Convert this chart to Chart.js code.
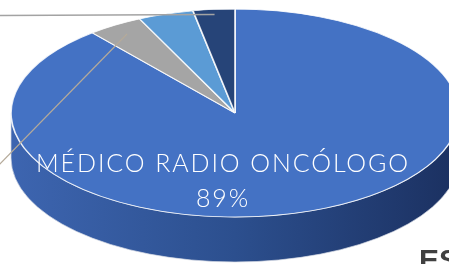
<!DOCTYPE html>
<html>
<head>
<meta charset="utf-8">
<script src="https://cdn.jsdelivr.net/npm/chart.js@4"></script>
<style>
  html, body { margin: 0; padding: 0; background: #fff; overflow: hidden; }
  canvas { display: block; }
</style>
</head>
<body>
<canvas id="canvas" width="449" height="264"></canvas>
<script>
// datos del gráfico (orden de Excel: empieza a las 12 y va en sentido horario)
var categorias = ['MÉDICO RADIO ONCÓLOGO', 'FÍSICO MÉDICO', 'TECNÓLOGO', 'ENFERMERÍA'];
var valores = [89, 4, 4, 3];
var colores = ['#4472C4', '#A5A5A5', '#5B9BD5', '#264478'];
// color del costado (efecto 3D): claro -> oscuro
var coloresLado = [
  ['#3d65b0', '#2c4f8e', '#1b3060'],
  ['#8c8c8c', '#777777', '#5c5c5c'],
  ['#4a86bd', '#3e72a3', '#2f5a82'],
  ['#1f3a66', '#1a3157', '#132544']
];

// geometría de la elipse (vista en perspectiva)
var CX = 235, CY = 113, RX = 224, RY = 104, PROF = 45;

function rangoVisible(a0, a1) {
  // parte del arco que cae en la mitad de abajo (0..PI) -> se ve el costado
  var res = [];
  for (var k = -1; k <= 1; k++) {
    var s = Math.max(a0, k * 2 * Math.PI), e = Math.min(a1, k * 2 * Math.PI + Math.PI);
    if (e > s) res.push([s, e]);
  }
  return res;
}

function puntoElipse(ang, frac) {
  return {
    x: CX + Math.cos(ang) * RX * frac,
    y: CY + Math.sin(ang) * RY * frac
  };
}

var pie3d = {
  id: 'pie3d',
  beforeDatasetsDraw: function(chart) {
    var ctx = chart.ctx;
    var arcs = chart.getDatasetMeta(0).data;
    // costado
    arcs.forEach(function(arc, i) {
      rangoVisible(arc.startAngle, arc.endAngle).forEach(function(r) {
        var a0 = r[0], a1 = r[1];
        var g = ctx.createLinearGradient(CX - RX, 0, CX + RX, 0);
        g.addColorStop(0, coloresLado[i][0]);
        g.addColorStop(0.5, coloresLado[i][1]);
        g.addColorStop(1, coloresLado[i][2]);
        ctx.save();
        ctx.beginPath();
        ctx.ellipse(CX, CY, RX, RY, 0, a0, a1);
        ctx.lineTo(CX + Math.cos(a1) * RX, CY + Math.sin(a1) * RY + PROF);
        ctx.ellipse(CX, CY + PROF, RX, RY, 0, a1, a0, true);
        ctx.closePath();
        ctx.fillStyle = g;
        ctx.fill();
        ctx.strokeStyle = 'rgba(215,220,230,0.7)';
        ctx.lineWidth = 1;
        ctx.stroke();
        ctx.restore();
      });
    });
    // aplastamos el círculo para que sea elipse
    var a = arcs[0];
    ctx.save();
    ctx.translate(CX, CY);
    ctx.scale(RX / a.outerRadius, RY / a.outerRadius);
    ctx.translate(-a.x, -a.y);
  },
  afterDatasetsDraw: function(chart) {
    var ctx = chart.ctx;
    ctx.restore();
    var arcs = chart.getDatasetMeta(0).data;

    // líneas guía de las etiquetas que quedan fuera del recorte
    var n = arcs.length - 1;
    var mid = (arcs[n].startAngle + arcs[n].endAngle) / 2;
    var p = puntoElipse(mid, 0.97);
    ctx.save();
    ctx.strokeStyle = '#a3a3a3';
    ctx.lineWidth = 1.5;
    ctx.beginPath();
    ctx.moveTo(p.x, p.y + 2);
    ctx.lineTo(0, p.y + 3);
    ctx.stroke();

    mid = (arcs[1].startAngle + arcs[1].endAngle) / 2;
    p = puntoElipse(mid, 0.9);
    ctx.strokeStyle = '#b5aa9a';
    ctx.lineWidth = 1.2;
    ctx.beginPath();
    ctx.moveTo(p.x, p.y);
    ctx.lineTo(-5, p.y + 135);
    ctx.stroke();

    // etiqueta del sector grande
    var total = valores.reduce(function(s, v) { return s + v; }, 0);
    ctx.fillStyle = '#ffffff';
    ctx.textAlign = 'center';
    ctx.textBaseline = 'alphabetic';
    ctx.font = '300 25px Lato';
    ctx.letterSpacing = '1.9px';
    ctx.fillText(categorias[0], 223, 172);
    ctx.fillText(Math.round(valores[0] / total * 100) + '%', 223, 207);
    ctx.letterSpacing = '0px';

    // trozo del título que asoma abajo a la derecha
    ctx.fillStyle = '#404040';
    ctx.textAlign = 'left';
    ctx.font = 'bold 30px "Liberation Sans"';
    ctx.fillText('ES', 419, 270);
    ctx.restore();
  }
};

var ctx = document.getElementById('canvas').getContext('2d');
window.miPie = new Chart(ctx, {
  type: 'pie',
  data: {
    labels: categorias,
    datasets: [{
      data: valores,
      backgroundColor: colores,
      borderColor: 'rgba(255,255,255,0.85)',
      borderWidth: 1,
      clip: false
    }]
  },
  options: {
    responsive: false,
    animation: false,
    devicePixelRatio: 1,
    layout: { padding: 0 },
    plugins: {
      legend: { display: false },
      tooltip: { enabled: false }
    }
  },
  plugins: [pie3d]
});
</script>
</body>
</html>
